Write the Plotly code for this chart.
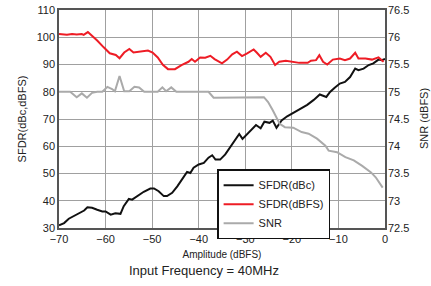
import plotly.graph_objects as go

# SFDR (dBc) - black
sfdr_dbc_x = [-70, -68.9, -67.9, -66.8, -65.7, -64.6, -63.9, -62.9, -61.8, -60.7, -60, -58.9, -57.9, -56.8,
              -56.1, -55, -54.3, -53.2, -51.8, -50.4, -49.6, -48.6, -47.5, -46.8, -45.7, -44.6, -43.6, -42.5,
              -41.8, -41.1, -40, -38.9, -37.9, -37.1, -36.4, -35.4, -34.3, -33.1, -32.4, -31.3, -30.6, -29.5,
              -28.4, -27.7, -26.7, -25.9, -24.8, -24.1, -23.3, -22.2, -21, -19.1, -18, -16.7, -15.3, -14,
              -12.6, -11.8, -10.8, -9.7, -8.6, -7.5, -6.4, -5.7, -4.6, -3.5, -2.5, -1.4, -0.7, 0]
sfdr_dbc_y = [31, 31.8, 33.4, 34.3, 35.2, 36.4, 37.6, 37.4, 36.7, 36.1, 36.1, 34.9, 35.4, 35.2,
              38, 40.7, 40.4, 41.7, 43.3, 44.5, 44.5, 43.5, 41.7, 41.7, 42.9, 45.3, 47.8, 50.6,
              50.2, 52.1, 53.3, 53.9, 55.8, 56.7, 55.1, 55.1, 57, 60.2, 62, 64.5, 62.7, 64.5,
              66.3, 67.8, 66.6, 69, 68.6, 69.4, 66.8, 69.5, 71, 72.8, 74, 75.2, 77, 79,
              78.1, 79.9, 81.5, 83, 83.6, 85.4, 88.5, 87.9, 88.5, 89.8, 90.4, 91.8, 91.6, 92]

# SFDR (dBFS) - red
sfdr_dbfs_x = [-70, -68.3, -67.2, -66.2, -65.1, -64.7, -63.8, -62.9, -61.8, -60.4, -59.1, -57.8, -57, -56,
               -54.9, -54, -52.4, -50.9, -49.9, -48.8, -47.7, -46.6, -45.1, -43.7, -42.2, -41.5, -40.8,
               -39.7, -38.6, -37.5, -36.6, -35, -33.9, -32.8, -31.8, -30.7, -29.6, -28.2, -27.5, -26.7,
               -25.6, -24.6, -23.6, -22.7, -21.3, -19.9, -18.4, -16.6, -15.9, -14.8, -14.1, -13.3, -12.4,
               -11.2, -9.7, -8.6, -7.5, -6.4, -5.7, -4.2, -2.8, -1.4, -0.3]
sfdr_dbfs_y = [101.2, 100.9, 101.2, 101, 101.2, 100.9, 101.9, 100.6, 98.8, 96.3, 94.1, 93.5, 92.3, 94.4,
               95.7, 94.4, 94.8, 95.1, 94.4, 92.6, 89.9, 88.3, 88.3, 89.8, 91, 92, 91,
               92.6, 92.5, 93.2, 92, 90.4, 91.8, 93.7, 94.7, 93.1, 94.1, 95.5, 94.3, 92.8,
               94.3, 92.8, 89.8, 91, 91.4, 91, 90.6, 90.6, 91.4, 91.6, 93.4, 91, 90,
               91.8, 92.2, 91.6, 92.2, 94.3, 92.2, 92.2, 91.8, 92.6, 91]

# SNR (dBFS) - gray, right axis
snr_x = [-70, -67.6, -66.2, -65.1, -64, -62.9, -61.8, -60.7, -59.6, -58.6, -58, -57, -56, -54.9,
         -53.8, -52.8, -51.7, -48.8, -47.8, -47, -45.9, -44.8, -37.9, -36.8, -26, -25.1, -24.1,
         -23.3, -22.6, -21.5, -19.7, -17.9, -16.4, -14.6, -12.8, -12.1, -10.3, -8.5, -6.7, -4.9,
         -3, -2, -0.5]
snr_y = [75.0, 75.0, 74.9, 74.97, 74.89, 74.98, 75.0, 75.0, 75.09, 75.05, 75.01, 75.29, 75.01, 75.01,
         75.09, 75.08, 75.0, 75.0, 75.08, 75.01, 75.08, 75.0, 75.0, 74.89, 74.9, 74.81, 74.66,
         74.54, 74.41, 74.35, 74.34, 74.26, 74.23, 74.14, 74.01, 73.92, 73.89, 73.80, 73.74, 73.64,
         73.52, 73.43, 73.24]

x_ticks = [-70, -60, -50, -40, -30, -20, -10, 0]
left_ticks = [30, 40, 50, 60, 70, 80, 90, 100, 110]
right_ticks = [72.5, 73, 73.5, 74, 74.5, 75, 75.5, 76, 76.5]

FONT = "Arial, Liberation Sans, sans-serif"
GRID = "#a0a0a0"

fig = go.Figure()
fig.add_trace(go.Scatter(x=sfdr_dbc_x, y=sfdr_dbc_y, mode="lines", name="SFDR(dBc)",
                         line=dict(color="#111111", width=2)))
fig.add_trace(go.Scatter(x=sfdr_dbfs_x, y=sfdr_dbfs_y, mode="lines", name="SFDR(dBFS)",
                         line=dict(color="#ee1c25", width=2)))
fig.add_trace(go.Scatter(x=snr_x, y=snr_y, mode="lines", name="SNR", yaxis="y2",
                         line=dict(color="#aaaaaa", width=2)))

fig.update_layout(
    width=431, height=286,
    margin=dict(l=59, r=46, t=10, b=58),
    paper_bgcolor="white", plot_bgcolor="white",
    font=dict(family=FONT, size=11, color="#222222"),
    showlegend=True,
    legend=dict(x=0.485, y=0.27, xanchor="left", yanchor="top",
                bgcolor="white", bordercolor="#111111", borderwidth=1.5,
                font=dict(size=11, color="#222222"), tracegroupgap=0,
                itemwidth=30),
    xaxis=dict(range=[-70, 0], tickvals=x_ticks, showgrid=True, gridcolor=GRID, gridwidth=1,
               showline=True, linecolor="#555555", linewidth=1.5, mirror=True,
               zeroline=False, ticks="", ticklen=0, automargin=False,
               title=dict(text="Amplitude (dBFS)", font=dict(size=10), standoff=7)),
    yaxis=dict(range=[30, 110], tickvals=left_ticks, showgrid=True, gridcolor=GRID, gridwidth=1,
               showline=True, linecolor="#555555", linewidth=1.5, mirror=True,
               zeroline=False, ticks="", automargin=False,
               title=dict(text="SFDR(dBc,dBFS)", font=dict(size=11), standoff=8)),
    yaxis2=dict(range=[72.5, 76.5], tickvals=right_ticks, overlaying="y", side="right",
                showgrid=False, zeroline=False, ticks="", ticklen=0, automargin=False,
                ticklabelstandoff=2),
    annotations=[
        dict(text="Input Frequency = 40MHz", xref="paper", yref="paper",
             x=0.445, y=-0.193, xanchor="center", yanchor="middle", showarrow=False,
             font=dict(size=13, color="#222222")),
        dict(text="SNR (dBFS)", xref="paper", yref="paper",
             x=(424 - 59) / 326, y=0.5, xanchor="center", yanchor="middle", showarrow=False,
             textangle=-90, font=dict(size=11, color="#222222")),
    ],
)

fig.write_html("out.html", config={"displayModeBar": False},
               post_script="document.body.style.margin='0';")
